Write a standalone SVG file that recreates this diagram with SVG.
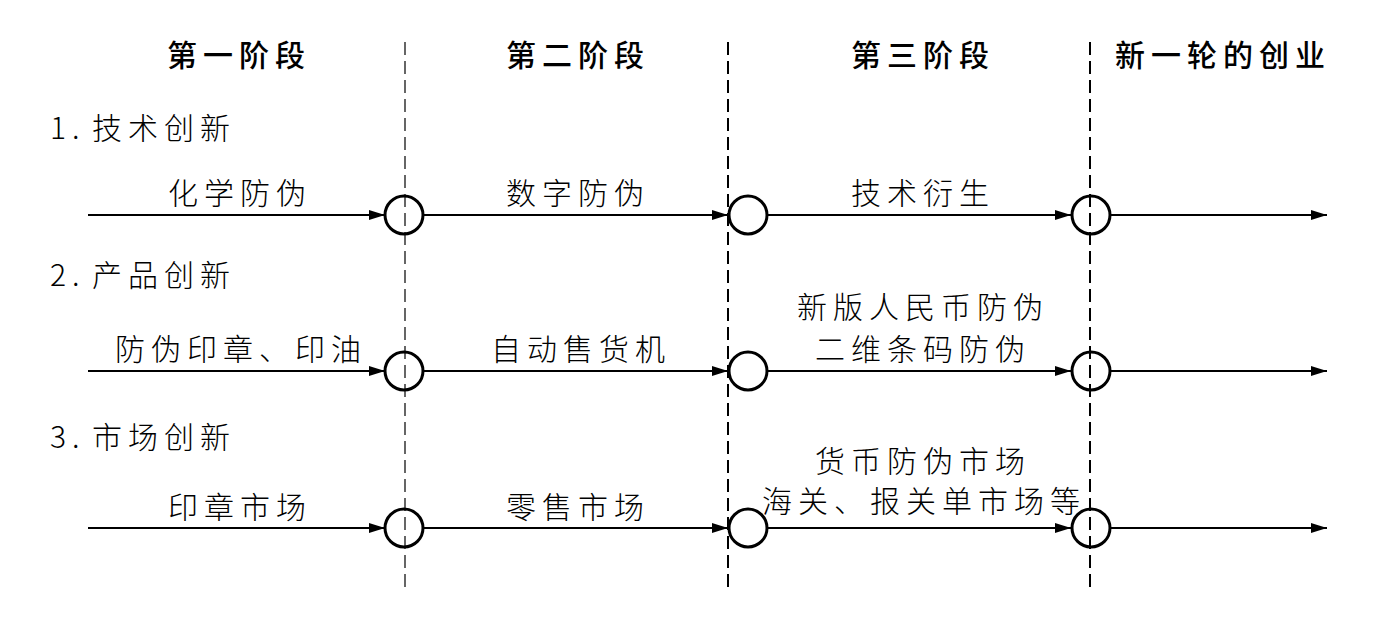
<svg xmlns="http://www.w3.org/2000/svg" width="1374" height="622" viewBox="0 0 1374 622">
<defs>
<marker id="arr" viewBox="0 0 16 10" refX="16" refY="5" markerWidth="16" markerHeight="10" markerUnits="userSpaceOnUse" orient="auto">
<path d="M0,0 L16,5 L0,10 Z" fill="#000"/>
</marker>
</defs>
<style>
.hd{font-family:"Noto Sans CJK SC","Noto Sans",sans-serif;font-size:30px;font-weight:500;letter-spacing:6px;text-anchor:middle;fill:#000}
.tx{font-family:"Noto Sans CJK SC","Liberation Serif",sans-serif;font-size:30px;font-weight:300;letter-spacing:6px;text-anchor:middle;fill:#000}
.lb{font-family:"Noto Sans CJK SC","Liberation Serif",sans-serif;font-size:30px;font-weight:300;letter-spacing:6px;fill:#000}
.ln{stroke:#000;stroke-width:2;fill:none}
.nd{stroke:#000;stroke-width:3;fill:#fff}
.ds1{stroke:#000;stroke-width:1.2;stroke-dasharray:13 6;fill:none}
.ds2{stroke:#000;stroke-width:2;stroke-dasharray:13 6;fill:none}
</style>
<rect width="1374" height="622" fill="#fff"/>
<g id="headers">
<text class="hd" x="239" y="66">第一阶段</text>
<text class="hd" x="578" y="66">第二阶段</text>
<text class="hd" x="923" y="66">第三阶段</text>
<text class="hd" x="1223" y="66">新一轮的创业</text>
</g>
<g id="categories">
<text class="lb" x="50" y="139">1.<tspan x="92">技术创新</tspan></text>
<text class="lb" x="50" y="286">2.<tspan x="92">产品创新</tspan></text>
<text class="lb" x="50" y="448">3.<tspan x="92">市场创新</tspan></text>
</g>
<g id="connectors">
<line class="ln" x1="88" y1="215" x2="385" y2="215" marker-end="url(#arr)"/>
<line class="ln" x1="424" y1="215" x2="728" y2="215" marker-end="url(#arr)"/>
<line class="ln" x1="767" y1="215" x2="1071" y2="215" marker-end="url(#arr)"/>
<line class="ln" x1="1110" y1="215" x2="1327" y2="215" marker-end="url(#arr)"/>
<line class="ln" x1="88" y1="371" x2="385" y2="371" marker-end="url(#arr)"/>
<line class="ln" x1="424" y1="371" x2="728" y2="371" marker-end="url(#arr)"/>
<line class="ln" x1="767" y1="371" x2="1071" y2="371" marker-end="url(#arr)"/>
<line class="ln" x1="1110" y1="371" x2="1327" y2="371" marker-end="url(#arr)"/>
<line class="ln" x1="88" y1="528" x2="385" y2="528" marker-end="url(#arr)"/>
<line class="ln" x1="424" y1="528" x2="728" y2="528" marker-end="url(#arr)"/>
<line class="ln" x1="767" y1="528" x2="1071" y2="528" marker-end="url(#arr)"/>
<line class="ln" x1="1110" y1="528" x2="1327" y2="528" marker-end="url(#arr)"/>
</g>
<g id="nodes">
<g id="n1a"><circle class="nd" cx="404" cy="215" r="19"/></g>
<g id="n1b"><circle class="nd" cx="748" cy="215" r="19"/></g>
<g id="n1c"><circle class="nd" cx="1091" cy="215" r="19"/></g>
<g id="n2a"><circle class="nd" cx="404" cy="371" r="19"/></g>
<g id="n2b"><circle class="nd" cx="748" cy="371" r="19"/></g>
<g id="n2c"><circle class="nd" cx="1091" cy="371" r="19"/></g>
<g id="n3a"><circle class="nd" cx="404" cy="528" r="19"/></g>
<g id="n3b"><circle class="nd" cx="748" cy="528" r="19"/></g>
<g id="n3c"><circle class="nd" cx="1091" cy="528" r="19"/></g>
</g>
<g id="dividers">
<line class="ds1" x1="405" y1="42" x2="405" y2="590"/>
<line class="ds2" x1="728" y1="42" x2="728" y2="590"/>
<line class="ds2" x1="1090" y1="42" x2="1090" y2="590"/>
</g>
<g id="labels">
<text class="tx" x="240" y="204">化学防伪</text>
<text class="tx" x="578" y="204">数字防伪</text>
<text class="tx" x="923" y="204">技术衍生</text>
<text class="tx" x="241" y="360">防伪印章、印油</text>
<text class="tx" x="581" y="360">自动售货机</text>
<text class="tx" x="923" y="318">新版人民币防伪</text>
<text class="tx" x="923" y="360">二维条码防伪</text>
<text class="tx" x="240" y="518">印章市场</text>
<text class="tx" x="578" y="518">零售市场</text>
<text class="tx" x="923" y="472">货币防伪市场</text>
<text class="tx" x="924" y="512">海关、报关单市场等</text>
</g>
</svg>
